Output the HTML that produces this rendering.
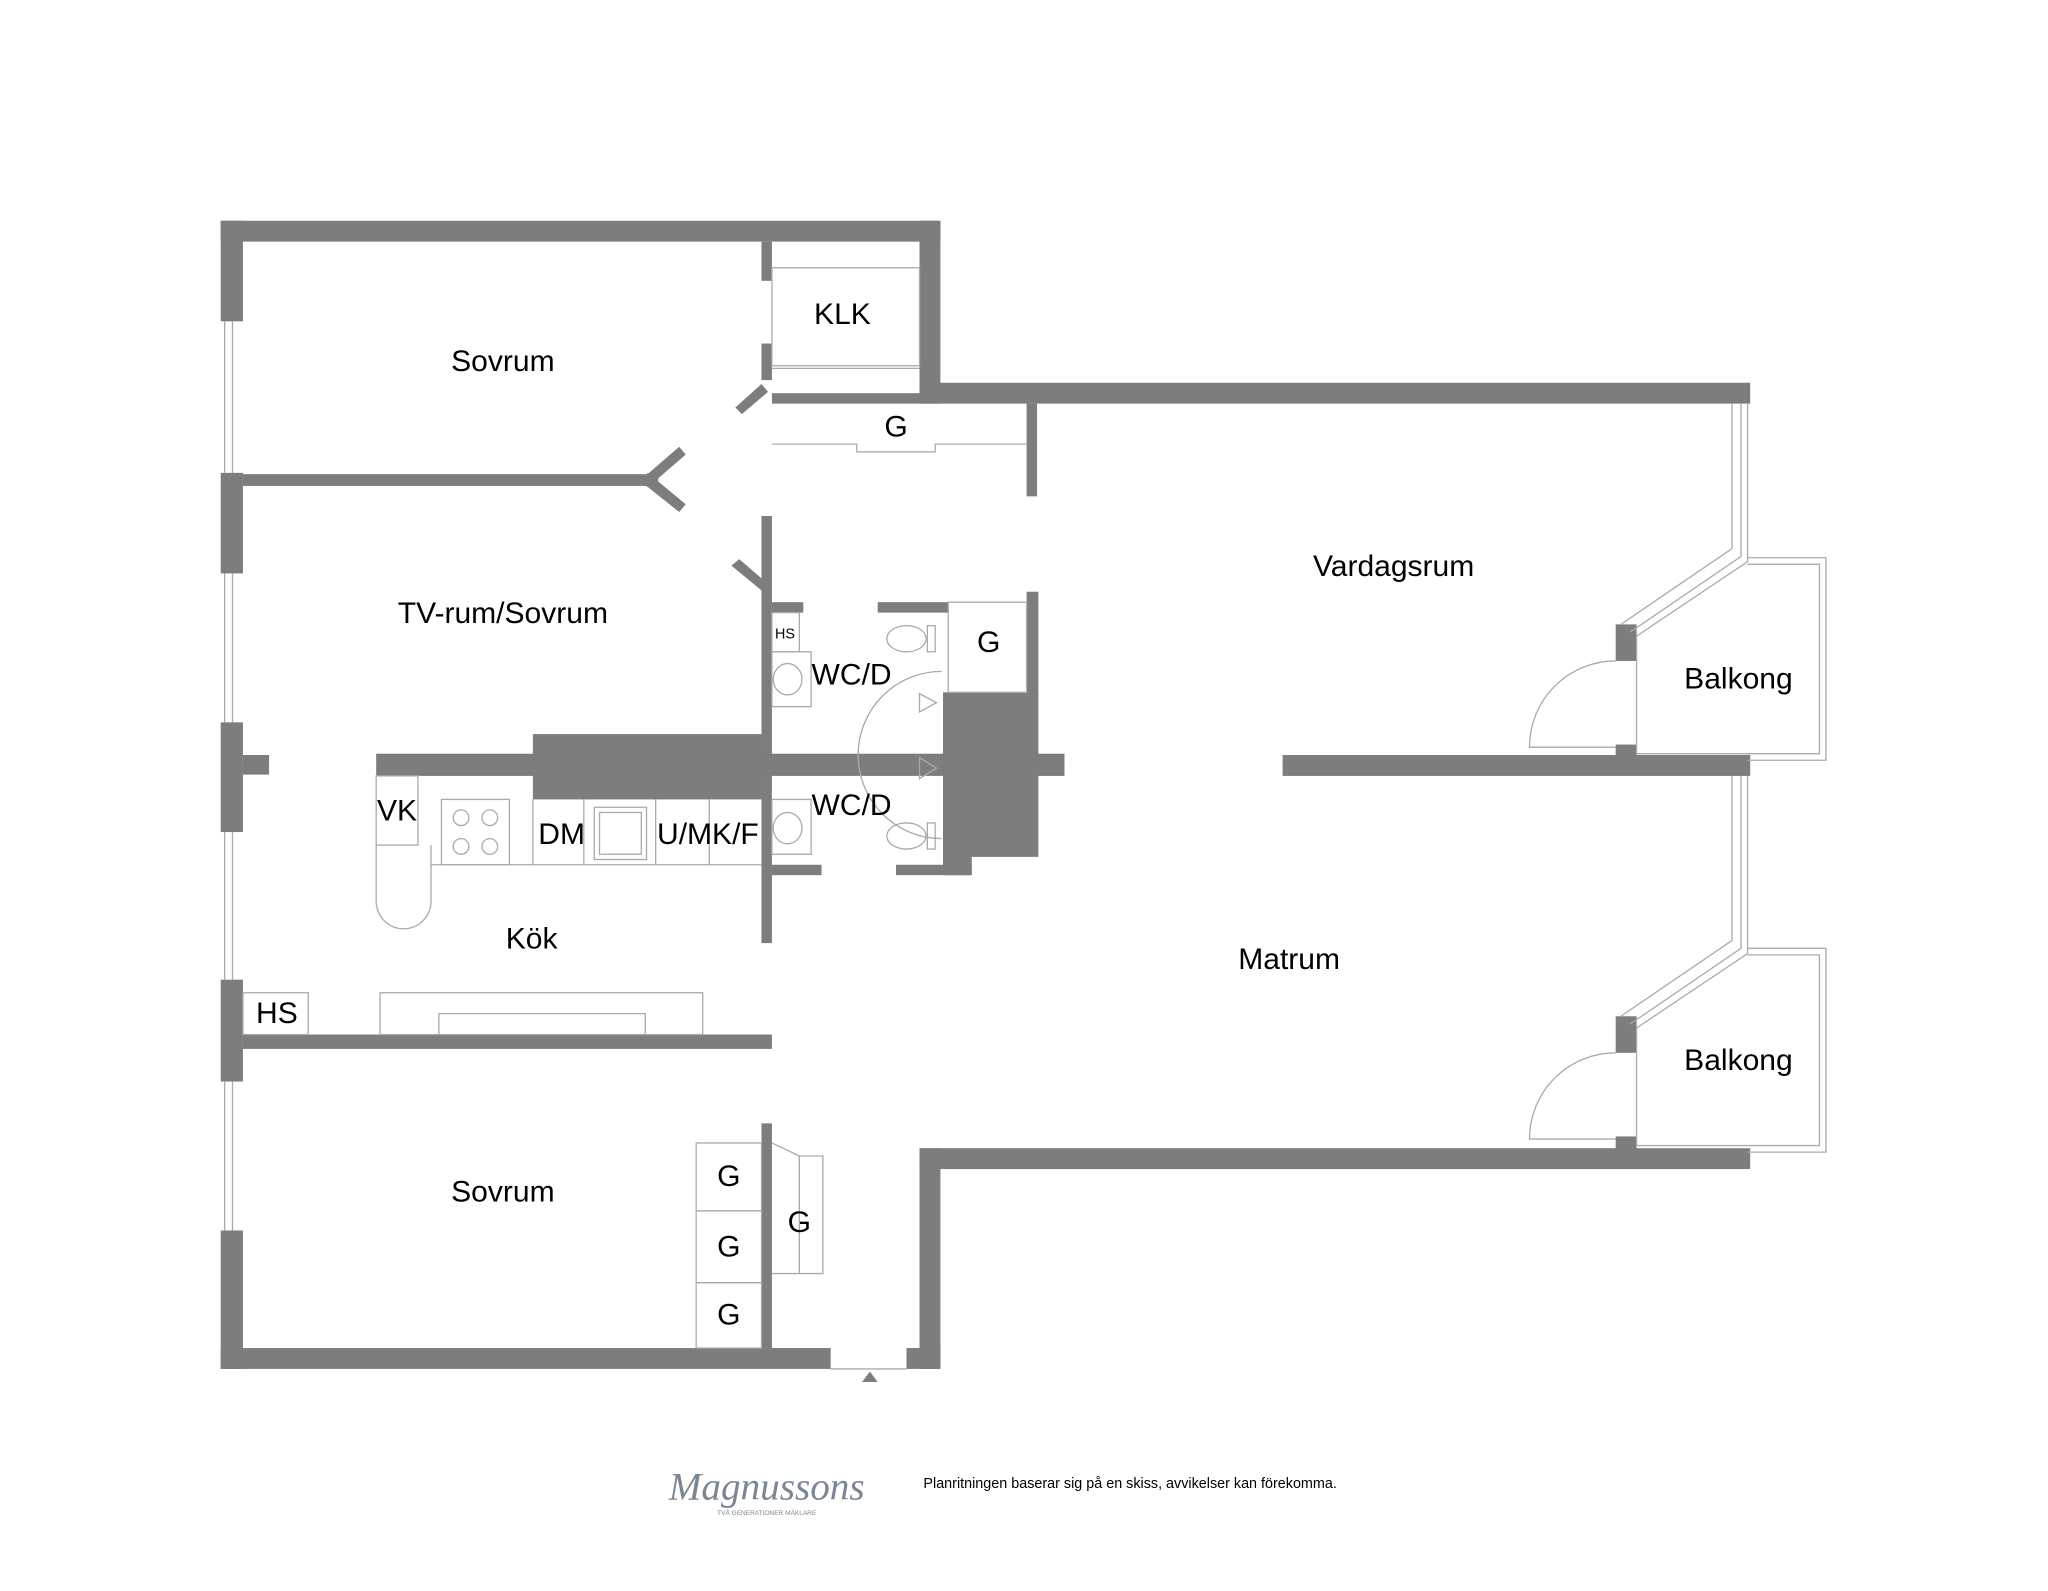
<!DOCTYPE html>
<html><head><meta charset="utf-8"><style>
html,body{margin:0;padding:0;background:#fff;}
svg{display:block;}
text{font-family:"Liberation Sans",sans-serif;fill:#000;}
</style></head><body>
<svg width="2048" height="1591" viewBox="0 0 1568 1218" preserveAspectRatio="none" xmlns="http://www.w3.org/2000/svg">
<rect width="1568" height="1218" fill="#fff"/>
<g fill="#7d7d7d">
<rect x="169" y="169" width="551" height="16"/>
<rect x="704" y="169" width="16" height="140"/>
<rect x="704" y="293" width="636" height="16"/>
<rect x="704" y="879" width="636" height="16"/>
<rect x="704" y="879" width="16" height="169"/>
<rect x="169" y="1032" width="467" height="16"/>
<rect x="694" y="1032" width="26" height="16"/>
<rect x="169" y="169" width="17" height="77"/>
<rect x="169" y="362" width="17" height="77"/>
<rect x="169" y="553" width="17" height="84"/>
<rect x="169" y="750" width="17" height="78"/>
<rect x="169" y="942" width="17" height="106"/>
<rect x="186" y="363" width="318" height="9"/>
<rect x="583" y="185" width="8" height="30"/>
<rect x="583" y="263" width="8" height="28"/>
<rect x="583" y="395" width="8" height="327"/>
<rect x="583" y="860" width="8" height="172"/>
<rect x="591" y="301" width="113" height="8"/>
<rect x="786" y="309" width="8" height="71"/>
<rect x="186" y="578" width="20" height="15"/>
<rect x="288" y="577" width="527" height="17"/>
<rect x="408" y="562" width="175" height="50"/>
<rect x="722" y="530" width="73" height="126"/>
<rect x="722" y="640" width="22" height="30"/>
<rect x="786" y="453" width="9" height="80"/>
<rect x="591" y="461" width="24" height="8"/>
<rect x="672" y="461" width="54" height="8"/>
<rect x="591" y="662" width="38" height="8"/>
<rect x="686" y="662" width="58" height="8"/>
<rect x="982" y="578" width="358" height="16"/>
<rect x="186" y="792" width="405" height="11"/>
<rect x="1237" y="478" width="16" height="28"/>
<rect x="1237" y="570" width="16" height="10"/>
<rect x="1237" y="778" width="16" height="28"/>
<rect x="1237" y="870" width="16" height="10"/>
<polygon points="490,368 520,342 525,348 496,373"/>
<polygon points="490,368 520,392 525,386 496,362"/>
<polygon points="563,312 583,294 588,300 568,317"/>
<polygon points="560,433 583,452 588,447 566,428"/>
</g>
<g fill="none" stroke="#aaa" stroke-width="1">
<path d="M172 246V362M178 246V362M172 439V553M178 439V553M172 637V750M178 637V750M172 828V942M178 828V942"/>
<rect x="591" y="205" width="113" height="75"/>
<path d="M591 282H704"/>
<path d="M591 340H656V346H716V340H786"/>
<path d="M1326 309V420L1241 478M1333 309V426L1248 484M1338 309V430L1253 487"/>
<path d="M1326 594V720L1241 778M1333 594V726L1248 784M1338 594V730L1253 787"/>
<path d="M1338 427H1398V582H1338M1338 432H1393V577H1253V487"/>
<path d="M1338 726H1398V882H1338M1338 731H1393V877H1253V787"/>
<path d="M1237 506A66 66 0 0 0 1171 572H1237M1237 806A66 66 0 0 0 1171 872H1237"/>
<rect x="288" y="594" width="32" height="53"/>
<path d="M288 647V690A17 17 0 0 0 330 690V647"/>
<rect x="338" y="612" width="52" height="50"/>
<circle cx="353" cy="626" r="6"/><circle cx="375" cy="626" r="6"/><circle cx="353" cy="648" r="6"/><circle cx="375" cy="648" r="6"/>
<path d="M330 662H583M408 612V662M447 612V662M502 612V662M543 612V662"/>
<rect x="455" y="618" width="40" height="40"/><rect x="459" y="622" width="32" height="32"/>
<rect x="291" y="760" width="247" height="32"/>
<path d="M336 792V776H494V792"/>
<rect x="186" y="760" width="50" height="32"/>
<rect x="533" y="875" width="50" height="52"/><rect x="533" y="927" width="50" height="55"/><rect x="533" y="982" width="50" height="50"/>
<path d="M591 875L612 885H630V975L612 975H591M612 885V975"/>
<path d="M636 1048H694"/>
<rect x="591" y="469" width="21" height="30"/>
<rect x="591" y="499" width="30" height="42"/>
<ellipse cx="603" cy="520" rx="11" ry="12"/>
<rect x="591" y="612" width="30" height="42"/>
<ellipse cx="603" cy="634" rx="11" ry="12"/>
<ellipse cx="694" cy="489" rx="15" ry="10"/><rect x="710" y="479" width="6" height="20"/>
<ellipse cx="694" cy="640" rx="15" ry="10"/><rect x="710" y="630" width="6" height="20"/>
<path d="M721 514A64 64 0 0 0 721 642"/>
<path d="M704 531L717 538L704 545ZM704 580L717 588L704 596Z"/>
<rect x="726" y="461" width="60" height="69"/>
</g>
<polygon points="660,1058 666,1050 672,1058" fill="#7d7d7d"/>
<g font-size="23">
<text x="385" y="284" text-anchor="middle">Sovrum</text>
<text x="645" y="248" text-anchor="middle">KLK</text>
<text x="686" y="334" text-anchor="middle">G</text>
<text x="385" y="477" text-anchor="middle">TV-rum/Sovrum</text>
<text x="1067" y="441" text-anchor="middle">Vardagsrum</text>
<text x="1331" y="527" text-anchor="middle">Balkong</text>
<text x="1331" y="819" text-anchor="middle">Balkong</text>
<text x="987" y="742" text-anchor="middle">Matrum</text>
<text x="652" y="524" text-anchor="middle">WC/D</text>
<text x="652" y="624" text-anchor="middle">WC/D</text>
<text x="757" y="499" text-anchor="middle">G</text>
<text x="407" y="726" text-anchor="middle">Kök</text>
<text x="304" y="628" text-anchor="middle">VK</text>
<text x="430" y="646" text-anchor="middle">DM</text>
<text x="542" y="646" text-anchor="middle">U/MK/F</text>
<text x="212" y="783" text-anchor="middle">HS</text>
<text x="385" y="920" text-anchor="middle">Sovrum</text>
<text x="558" y="908" text-anchor="middle">G</text>
<text x="558" y="962" text-anchor="middle">G</text>
<text x="558" y="1014" text-anchor="middle">G</text>
<text x="612" y="943" text-anchor="middle">G</text>
</g>
<text x="601" y="489" font-size="11" text-anchor="middle">HS</text>
<text x="587" y="1148" font-size="30" font-style="italic" text-anchor="middle" style="font-family:'Liberation Serif',serif;fill:#7a8694">Magnussons</text>
<text x="587" y="1160" font-size="5" text-anchor="middle" style="fill:#7a8694">TVÅ GENERATIONER MÄKLARE</text>
<text x="707" y="1139" font-size="11">Planritningen baserar sig på en skiss,  avvikelser kan förekomma.</text>
</svg>
</body></html>
